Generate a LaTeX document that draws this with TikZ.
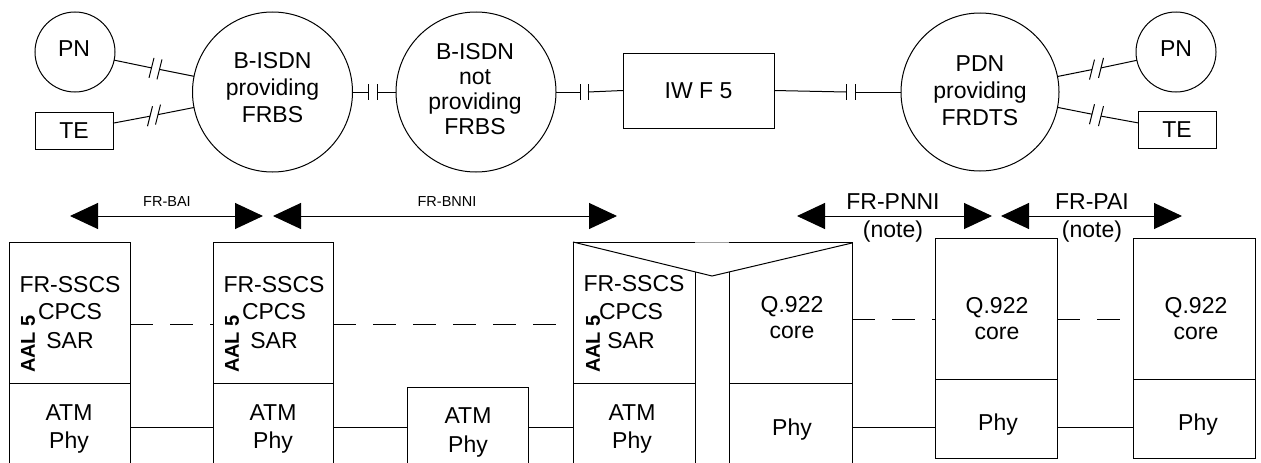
\documentclass[tikz,border=0pt]{standalone}
\usepackage{fontspec}
\setmainfont{Liberation Sans}
\usetikzlibrary{arrows.meta}
\begin{document}
\begin{tikzpicture}[x=1pt,y=-1pt,line width=1pt,
  every node/.style={inner sep=0pt,outer sep=0pt},
  big/.style={font=\fontsize{23}{27}\selectfont},
  bigtight/.style={font=\fontsize{23}{25}\selectfont},
  small/.style={font=\fontsize{14.5}{17}\selectfont},
  aal/.style={font=\fontsize{20}{24}\selectfont\bfseries,rotate=90},
  ringsmall/.style={draw,circle,minimum size=80pt},
  ringbig/.style={draw,circle,minimum size=160pt},
  termbox/.style={draw,rectangle,minimum width=78pt,minimum height=37pt},
  dblarrow/.style={arrows={Triangle[length=28pt,width=26pt]-Triangle[length=28pt,width=26pt]}},
  layerdash/.style={dash pattern=on 23pt off 17pt},
  txt/.style={big,anchor=base}
]
\useasboundingbox (0,0) rectangle (1261,463);

% ---------- top row ----------
\node[ringsmall] (pnL) at (75,52) {};
\node[big] (pnLt) at (74,49) {PN};
\node[termbox,big] (teL) at (74,130.5) {TE};
\node[ringbig] (b1) at (272.5,92) {};
\node[big,align=center] (b1t) at (272.5,88) {B-ISDN\\providing\\FRBS};
\node[ringbig] (b2) at (476,92) {};
\node[bigtight,align=center] (b2t) at (475,89.5) {B-ISDN\\not\\providing\\FRBS};
\node[draw,rectangle,minimum width=151pt,minimum height=75pt,big] (iwf) at (698.5,90.5) {IW F 5};
\node[draw,circle,minimum size=158pt] (pdn) at (980,92) {};
\node[big,align=center] (pdnt) at (980,91) {PDN\\providing\\FRDTS};
\node[ringsmall] (pnR) at (1176,52) {};
\node[big] (pnRt) at (1176,49) {PN};
\node[termbox,big] (teR) at (1177,130) {TE};

% break-mark coordinates
\coordinate (m1a) at (151.5,67.9); \coordinate (m1b) at (159.5,69.4);
\coordinate (m2a) at (150,116.2);  \coordinate (m2b) at (158,114.6);
\coordinate (m3a) at (1092,69.6);  \coordinate (m3b) at (1101,67.9);
\coordinate (m4a) at (1092,114.2); \coordinate (m4b) at (1101,116.1);
\coordinate (h1a) at (368,92); \coordinate (h1b) at (377,92);
\coordinate (h2a) at (580,92); \coordinate (h2b) at (588,92);
\coordinate (h3a) at (846,92); \coordinate (h3b) at (855,92);

\draw (pnL) -- (m1a); \draw (m1b) -- (b1);
\draw (teL) -- (m2a); \draw (m2b) -- (b1);
\draw (b1.east) -- (h1a); \draw (h1b) -- (b2.west);
\draw (b2.east) -- (h2a); \draw (h2b) -- (iwf.west);
\draw (iwf.east) -- (h3a); \draw (h3b) -- (pdn.west);
\draw (pdn) -- (m3a); \draw (m3b) -- (pnR);
\draw (pdn) -- (m4a); \draw (m4b) -- (teR);

\foreach \m in {m1a,m1b,m2a,m2b,m3a,m3b,m4a,m4b}
  \draw ([shift={(-2.5,10)}]\m) -- ([shift={(2.5,-10)}]\m);
\foreach \m in {h1a,h1b,h2a,h2b,h3a,h3b}
  \draw ([shift={(0,-8)}]\m) -- ([shift={(0,8)}]\m);

% ---------- interface arrows ----------
\coordinate (bail) at (70,216);   \coordinate (bair) at (263,216);
\coordinate (bnnil) at (273,216); \coordinate (bnnir) at (617,216);
\coordinate (pnnil) at (797,216); \coordinate (pnnir) at (992,216);
\coordinate (pail) at (1001,216); \coordinate (pair) at (1182,216);
\draw[dblarrow] (bail) -- (bair);
\draw[dblarrow] (bnnil) -- (bnnir);
\draw[dblarrow] (pnnil) -- (pnnir);
\draw[dblarrow] (pail) -- (pair);
\node[small,anchor=base] (baiT) at (167,206) {FR-BAI};
\node[small,anchor=base] (bnniT) at (447,206) {FR-BNNI};
\node[txt] (pnniT) at (893,209) {FR-PNNI};
\node[txt] (pnniN) at (893,237) {(note)};
\node[txt] (paiT) at (1092,209) {FR-PAI};
\node[txt] (paiN) at (1092,237) {(note)};

% ---------- protocol stacks ----------
% column 1
\draw (9,463) -- (9,242) -- (130,242) -- (130,463);
\draw (9,383) -- (130,383);
% column 2
\draw (213,463) -- (213,242) -- (333,242) -- (333,463);
\draw (213,383) -- (333,383);
% column 3
\draw (407,463) -- (407,387) -- (528,387) -- (528,463);
% column 4 (IWF)
\draw (573,463) -- (573,242) -- (695,242);
\draw[gray!75] (695,242) -- (729,242);
\draw (729,242) -- (852,242) -- (852,463);
\draw (573,242) -- (712,276) -- (852,243);
\draw (695,271.8) -- (695,463);
\draw (729,272) -- (729,463);
\draw (573,383) -- (695,383);
\draw (729,383) -- (852,383);
% columns 6 and 7
\draw (935,238) rectangle (1057,458);
\draw (935,379) -- (1057,379);
\draw (1133,238) rectangle (1255,458);
\draw (1133,379) -- (1255,379);

% peer lines
\draw[layerdash] (130,324) -- (213,324);
\draw[layerdash] (333,324) -- (573,324);
\draw[layerdash] (852,319) -- (935,319);
\draw[layerdash] (1057,319) -- (1133,319);
\draw (130,427) -- (213,427);
\draw (333,427) -- (407,427);
\draw (528,427) -- (573,427);
\draw (852,427) -- (935,427);
\draw (1057,427) -- (1133,427);

% texts column 1
\node[txt] (c1a) at (70,292) {FR-SSCS};
\node[txt] (c1b) at (70,319) {CPCS};
\node[txt] (c1c) at (70,348) {SAR};
\node[aal] (c1d) at (28,344) {AAL 5};
\node[txt] (c1e) at (69,420) {ATM};
\node[txt] (c1f) at (69,448) {Phy};
% column 2
\node[txt] (c2a) at (274,292) {FR-SSCS};
\node[txt] (c2b) at (274,319) {CPCS};
\node[txt] (c2c) at (274,348) {SAR};
\node[aal] (c2d) at (232,344) {AAL 5};
\node[txt] (c2e) at (273,420) {ATM};
\node[txt] (c2f) at (273,448) {Phy};
% column 3
\node[txt] (c3e) at (468,423) {ATM};
\node[txt] (c3f) at (468,452) {Phy};
% column 4
\node[txt] (c4a) at (634,291) {FR-SSCS};
\node[txt] (c4b) at (631,319) {CPCS};
\node[txt] (c4c) at (631,348) {SAR};
\node[aal] (c4d) at (593,344) {AAL 5};
\node[txt] (c4e) at (632,420) {ATM};
\node[txt] (c4f) at (632,448) {Phy};
\node[txt] (c5a) at (792,312) {Q.922};
\node[txt] (c5b) at (792,338) {core};
\node[txt] (c5c) at (792,435) {Phy};
% column 6
\node[txt] (c6a) at (997,313) {Q.922};
\node[txt] (c6b) at (997,339) {core};
\node[txt] (c6c) at (998,430) {Phy};
% column 7
\node[txt] (c7a) at (1196,313) {Q.922};
\node[txt] (c7b) at (1196,339) {core};
\node[txt] (c7c) at (1198,430) {Phy};
\end{tikzpicture}
\end{document}
